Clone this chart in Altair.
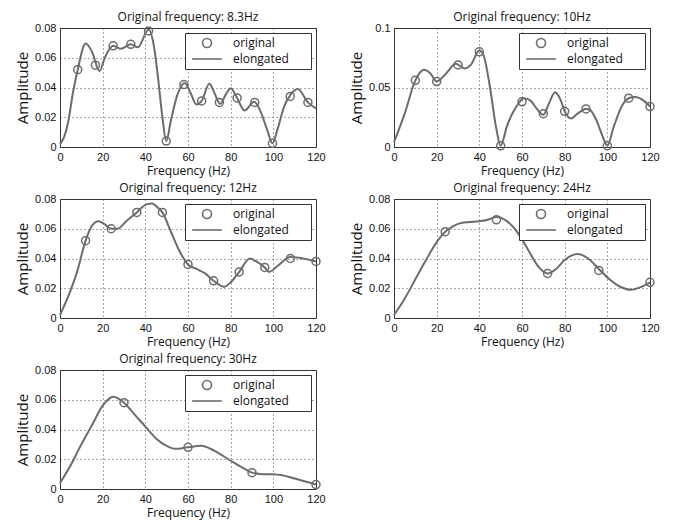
import altair as alt
import pandas as pd

# ---------------- data ----------------
FREQ_TICKS = [0, 20, 40, 60, 80, 100, 120]
Y_TICKS_008 = [0, 0.02, 0.04, 0.06, 0.08]
Y_TICKS_01 = [0, 0.05, 0.1]
SERIES = ["original", "elongated"]

titles = [
    "Original frequency: 8.3Hz",
    "Original frequency: 10Hz",
    "Original frequency: 12Hz",
    "Original frequency: 24Hz",
    "Original frequency: 30Hz",
]

# Panel 1 : 8.3 Hz
p1_orig_f = [8.3, 16.6, 24.9, 33.2, 41.5, 49.8, 58.1, 66.4, 74.7, 83.0, 91.3, 99.6, 107.9, 116.2]
p1_orig_a = [0.052, 0.055, 0.068, 0.069, 0.078, 0.004, 0.042, 0.031, 0.030, 0.033, 0.030, 0.0025, 0.034, 0.030]
p1_curve_f = [0, 2, 4, 6, 8.3, 12, 15, 18.5, 21, 24.9, 28.5, 33.2, 36.5, 41.5, 44, 46, 48, 49.8,
              52, 55, 58.5, 61, 64, 66.4, 70, 72.5, 75, 78, 80, 83, 86.5, 91, 94, 97, 99.6,
              102, 105, 108, 111.5, 116.2, 120]
p1_curve_a = [0.002, 0.007, 0.018, 0.036, 0.052, 0.0695, 0.064, 0.051, 0.060, 0.068, 0.066, 0.069, 0.067, 0.079, 0.068, 0.046, 0.020, 0.004,
              0.018, 0.035, 0.043, 0.037, 0.0285, 0.031, 0.0425, 0.036, 0.029, 0.036, 0.0395, 0.033, 0.0245, 0.0305, 0.024, 0.012, 0.0025,
              0.012, 0.027, 0.035, 0.039, 0.030, 0.026]

# Panel 2 : 10 Hz
p2_orig_f = [10, 20, 30, 40, 50, 60, 70, 80, 90, 100, 110, 120]
p2_orig_a = [0.056, 0.055, 0.069, 0.080, 0.001, 0.038, 0.028, 0.030, 0.032, 0.001, 0.041, 0.034]
p2_curve_f = [0, 5, 10, 14, 17, 20, 24, 29, 33, 36, 40, 42, 45, 48, 50,
              53, 57, 61, 64, 67, 70, 72.5, 75.5, 78, 80, 83, 86, 90, 92, 95, 98, 100,
              103, 107, 110, 113, 117, 120]
p2_curve_a = [0.004, 0.028, 0.056, 0.065, 0.062, 0.055, 0.061, 0.070, 0.066, 0.069, 0.081, 0.077, 0.050, 0.015, 0.001,
              0.018, 0.033, 0.041, 0.039, 0.032, 0.027, 0.036, 0.046, 0.040, 0.030, 0.024, 0.028, 0.032, 0.031, 0.022, 0.008, 0.001,
              0.017, 0.035, 0.041, 0.042, 0.039, 0.034]

# Panel 3 : 12 Hz
p3_orig_f = [12, 24, 36, 48, 60, 72, 84, 96, 108, 120]
p3_orig_a = [0.052, 0.060, 0.071, 0.071, 0.036, 0.025, 0.031, 0.034, 0.040, 0.038]
p3_curve_f = [0, 4, 8, 12, 15, 18, 21, 24, 27, 31, 36, 40, 43, 46, 48, 52, 56, 60, 64, 68, 72, 77,
              80, 84, 89, 92, 96, 98, 102, 108, 114, 120]
p3_curve_a = [0.002, 0.015, 0.031, 0.052, 0.062, 0.065, 0.063, 0.060, 0.060, 0.065, 0.071, 0.076, 0.077, 0.074, 0.071, 0.058, 0.045, 0.036, 0.033, 0.030, 0.025, 0.021,
              0.024, 0.031, 0.040, 0.038, 0.034, 0.031, 0.035, 0.041, 0.040, 0.038]

# Panel 4 : 24 Hz
p4_orig_f = [24, 48, 72, 96, 120]
p4_orig_a = [0.058, 0.066, 0.030, 0.032, 0.024]
p4_curve_f = [0, 5, 10, 15, 20, 24, 28, 32, 40, 44, 48, 52, 56, 60, 64, 68, 72, 76, 80, 86, 91, 96,
              101, 106, 111, 116, 120]
p4_curve_a = [0.002, 0.013, 0.026, 0.039, 0.051, 0.058, 0.062, 0.064, 0.065, 0.066, 0.068, 0.066, 0.061, 0.053, 0.043, 0.034, 0.030, 0.033, 0.039, 0.043, 0.040, 0.033,
              0.026, 0.021, 0.019, 0.021, 0.024]

# Panel 5 : 30 Hz
p5_orig_f = [30, 60, 90, 120]
p5_orig_a = [0.058, 0.028, 0.011, 0.003]
p5_curve_f = [0, 5, 10, 15, 20, 25, 30, 35, 40, 45, 50, 54, 60, 66, 72, 80, 86, 90, 95, 100, 105, 110, 115, 120]
p5_curve_a = [0.004, 0.016, 0.030, 0.043, 0.056, 0.062, 0.058, 0.050, 0.042, 0.034, 0.029, 0.027, 0.028, 0.029, 0.026, 0.019, 0.014, 0.011, 0.010, 0.010, 0.009, 0.007, 0.005, 0.003]

# ---------------- styling ----------------
LINE_COLOR = "#6c6c6c"
FONT = "Open Sans"
TICK_FONT = "Liberation Sans"
W, H = 256, 119


def panel(title, cf, ca, of, oa, ymax, yticks):
    curve = pd.DataFrame({"f": cf, "a": ca, "s": ["elongated"] * len(cf)})
    orig = pd.DataFrame({"f": of, "a": oa, "s": ["original"] * len(of)})
    x = alt.X("f:Q", scale=alt.Scale(domain=[0, 120], nice=False, zero=False),
              axis=alt.Axis(values=FREQ_TICKS, title="Frequency (Hz)", labelFlush=False))
    y = alt.Y("a:Q", scale=alt.Scale(domain=[0, ymax], nice=False),
              axis=alt.Axis(values=yticks, title="Amplitude", format="~g",
                            titleFontSize=15, titlePadding=4))
    legend = alt.Legend(
        title=None, orient="top-right", offset=5,
        fillColor="white", strokeColor="#333333", padding=4,
        labelFont=FONT, labelFontSize=12, labelColor="#111111",
        symbolSize=81, symbolStrokeWidth=1.6, symbolStrokeColor=LINE_COLOR,
        symbolFillColor="transparent",
        symbolOffset=12, labelOffset=20, rowPadding=2,
        labelExpr="datum.label + '\u2800\u2800'",
        zindex=2,
    )
    line = alt.Chart(curve).mark_line(
        color=LINE_COLOR, strokeWidth=2, interpolate="monotone"
    ).encode(x=x, y=y)
    pts = alt.Chart(orig).mark_point(
        filled=False, color=LINE_COLOR, size=64, strokeWidth=1.5, opacity=1
    ).encode(
        x=x, y=y,
        shape=alt.Shape("s:N", scale=alt.Scale(domain=SERIES, range=["circle", "M-3.3,0H3.3"]),
                        legend=legend),
    )
    return alt.layer(line, pts).properties(
        width=W, height=H,
        title=alt.TitleParams(title, anchor="middle", frame="group", fontSize=12,
                              font=FONT, fontWeight="normal", offset=-2, color="#111111"),
    )


c1 = panel(titles[0], p1_curve_f, p1_curve_a, p1_orig_f, p1_orig_a, 0.08, Y_TICKS_008)
c2 = panel(titles[1], p2_curve_f, p2_curve_a, p2_orig_f, p2_orig_a, 0.1, Y_TICKS_01)
c3 = panel(titles[2], p3_curve_f, p3_curve_a, p3_orig_f, p3_orig_a, 0.08, Y_TICKS_008)
c4 = panel(titles[3], p4_curve_f, p4_curve_a, p4_orig_f, p4_orig_a, 0.08, Y_TICKS_008)
c5 = panel(titles[4], p5_curve_f, p5_curve_a, p5_orig_f, p5_orig_a, 0.08, Y_TICKS_008)


def row(*charts):
    return alt.hconcat(*charts, spacing=23).resolve_scale(
        shape="independent", x="independent", y="independent"
    ).resolve_legend(shape="independent")


chart = alt.vconcat(
    row(c1, c2), row(c3, c4), row(c5), spacing=4
).resolve_scale(
    shape="independent", x="independent", y="independent"
).resolve_legend(
    shape="independent"
).properties(
    padding={"left": 15, "top": 10, "right": 5, "bottom": 5},
    background="white",
).configure_axis(
    grid=True, gridColor="#3c3c3c", gridDash=[1, 3], gridWidth=0.9, gridOpacity=1,
    domain=False, ticks=False,
    labelFont=TICK_FONT, labelFontSize=11, labelColor="#111111", labelPadding=4,
    titleFont=FONT, titleFontWeight="normal", titleColor="#111111", titleFontSize=12,
).configure_axisX(
    titlePadding=3,
).configure_view(
    stroke="#333333", strokeWidth=1,
)

chart.save("out.html", embed_options={"renderer": "svg", "actions": False})
